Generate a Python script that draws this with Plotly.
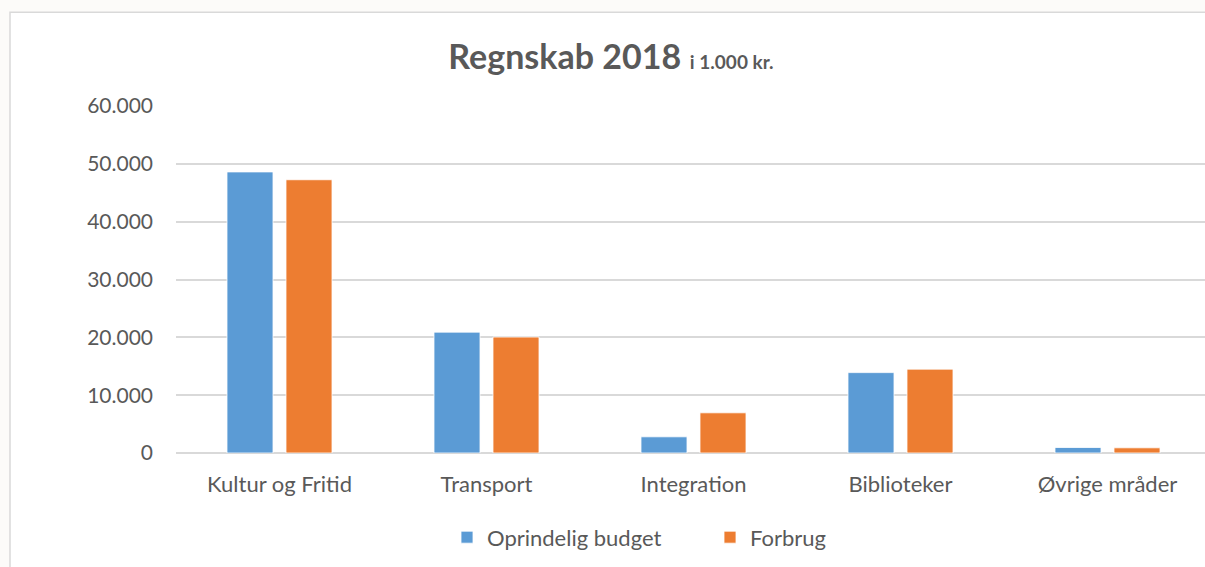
import plotly.graph_objects as go

categories = ["Kultur og Fritid", "Transport", "Integration", "Biblioteker", "Øvrige mråder"]
budget = [48600, 20900, 2800, 13900, 950]
forbrug = [47250, 20050, 6950, 14500, 900]
series_names = ["Oprindelig budget", "Forbrug"]
y_ticks = [0, 10000, 20000, 30000, 40000, 50000, 60000]

W, H = 1205, 567
L, R, T, B = 176, 0, 106, 113.5
pw, ph = W - L - R, H - T - B

FONT = "Lato"
TXT = "#595959"

fig = go.Figure()
fig.add_trace(go.Bar(x=categories, y=budget, name=series_names[0],
                     marker=dict(color="#5b9bd5", line=dict(color="white", width=0.8))))
fig.add_trace(go.Bar(x=categories, y=forbrug, name=series_names[1],
                     marker=dict(color="#ed7d31", line=dict(color="white", width=0.8))))

def px(x):
    return (x - L) / pw

def py(y):
    return (H - B - y) / ph

fig.add_shape(type="rect", xref="paper", yref="paper",
              x0=px(10), x1=px(1400), y0=py(12), y1=py(800),
              fillcolor="white", line=dict(color="#d9d9d9", width=1.5), layer="below")

fig.update_layout(
    width=W, height=H,
    margin=dict(l=L, r=R, t=T, b=B, autoexpand=False),
    paper_bgcolor="#fcfbf9",
    plot_bgcolor="rgba(0,0,0,0)",
    separators=",.",
    barmode="group",
    bargap=0.43,
    bargroupgap=0.22,
    font=dict(family=FONT, color=TXT, size=21),
    title=dict(
        text="<b>Regnskab 2018</b> <b><span style='font-size:19px'>i 1.000 kr.</span></b>",
        xref="container", yref="container", x=0.507, xanchor="center",
        y=1 - 57 / H, yanchor="middle",
        font=dict(family=FONT, size=34, color=TXT),
    ),
    xaxis=dict(range=[-0.5, -0.5 + pw / 207.0], showgrid=False, showline=False,
               ticks="", tickfont=dict(size=22, color=TXT), ticklabelstandoff=16,
               fixedrange=True),
    yaxis=dict(range=[0, 60000], tickvals=y_ticks, tickformat=",d",
               showgrid=True, gridcolor="#d9d9d9", gridwidth=1.5,
               zeroline=True, zerolinecolor="#d9d9d9", zerolinewidth=1.5,
               showline=False, ticks="", tickfont=dict(size=21, color=TXT),
               ticklabelstandoff=22, fixedrange=True),
    legend=dict(orientation="h", x=px(447), xanchor="left", y=py(538), yanchor="middle",
                font=dict(size=22, color=TXT), bgcolor="rgba(0,0,0,0)",
                itemwidth=30, tracegroupgap=0, entrywidth=218),
    showlegend=True,
)

fig.write_html("out.html",
               config={"displayModeBar": False},
               post_script="document.body.style.margin='0';document.body.style.overflow='hidden';"
                           "document.documentElement.style.overflow='hidden';")
